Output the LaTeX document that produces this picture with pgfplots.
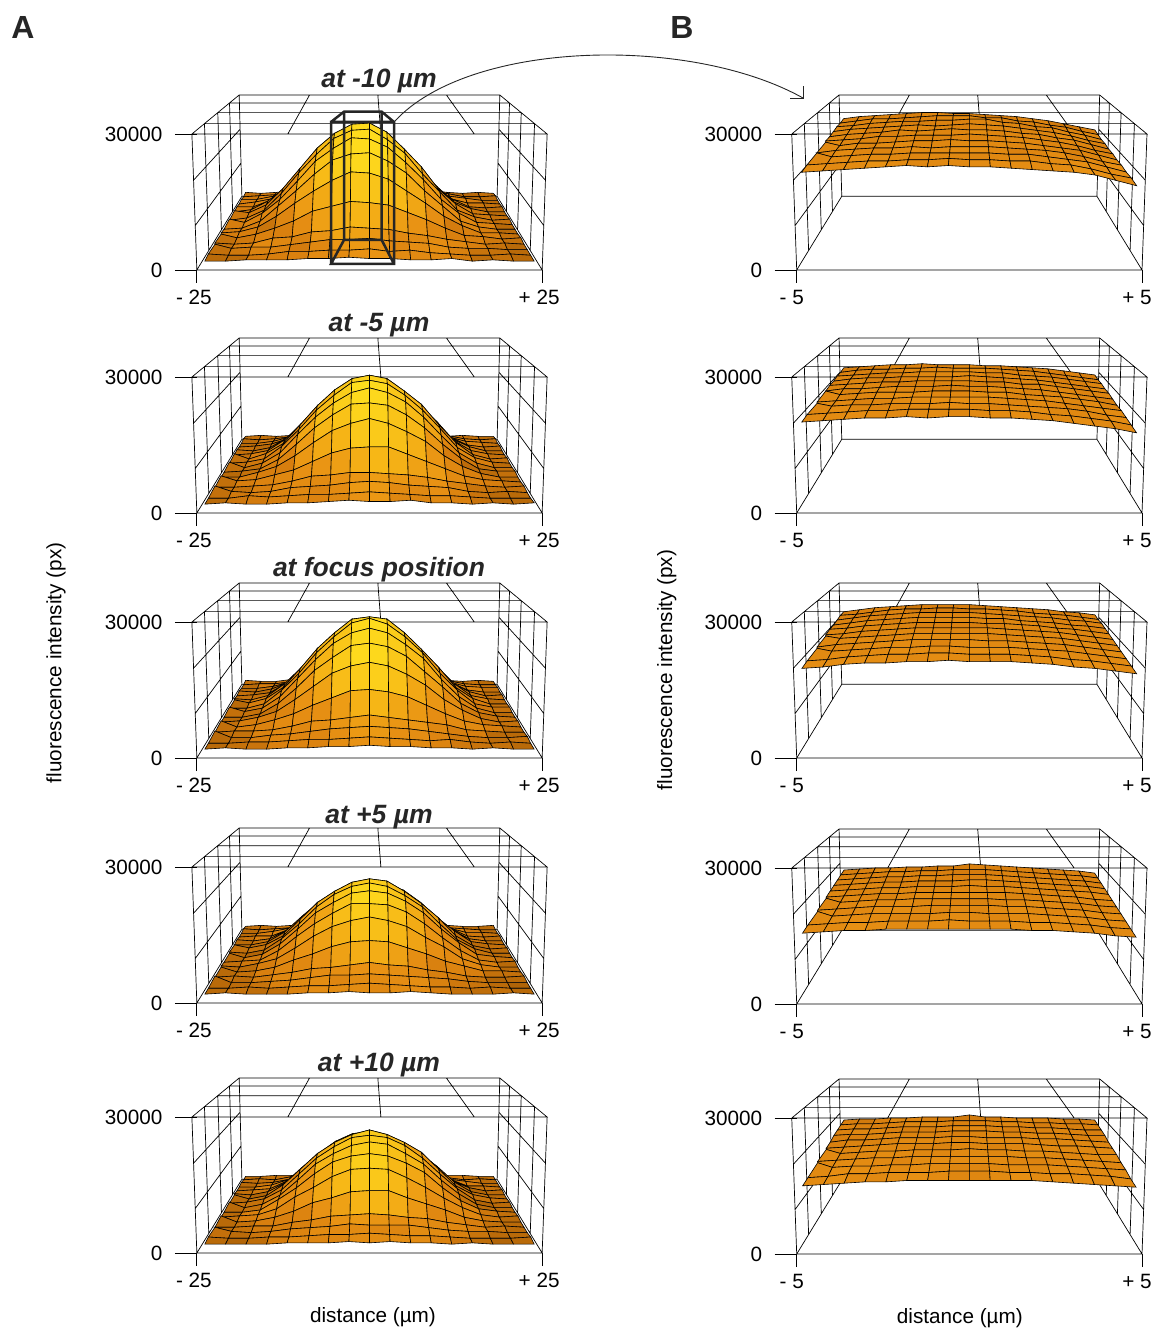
\documentclass[border=0pt]{standalone}
\usepackage{pgfplots}
\usepackage{pgfplotstable}
\usepackage{fontspec}
\setmainfont{Liberation Sans}
\pgfplotsset{compat=1.18}
\pgfplotstableread[row sep=\\]{u d h\\
-1 0 1\\1 0 1\\1 1 1\\-1 1 1\\-1 0 1\\nan nan nan\\
-1 .21 1\\1 .21 1\\nan nan nan\\-1 .47 1\\1 .47 1\\nan nan nan\\-1 .74 1\\1 .74 1\\nan nan nan\\
-.46 0 1\\-.46 1 1\\nan nan nan\\.064 0 1\\.064 1 1\\nan nan nan\\.59 0 1\\.59 1 1\\nan nan nan\\
-1 0 0\\1 0 0\\1 1 0\\-1 1 0\\-1 0 0\\nan nan nan\\
-1 0 0\\-1 0 1\\nan nan nan\\1 0 0\\1 0 1\\nan nan nan\\-1 1 0\\-1 1 1\\nan nan nan\\1 1 0\\1 1 1\\nan nan nan\\
-1 .21 0\\-1 .21 1\\nan nan nan\\-1 .47 0\\-1 .47 1\\nan nan nan\\-1 .74 0\\-1 .74 1\\nan nan nan\\
1 .21 0\\1 .21 1\\nan nan nan\\1 .47 0\\1 .47 1\\nan nan nan\\1 .74 0\\1 .74 1\\nan nan nan\\
-1 0 .3333\\-1 1 .3333\\nan nan nan\\-1 0 .6667\\-1 1 .6667\\nan nan nan\\
1 0 .3333\\1 1 .3333\\nan nan nan\\1 0 .6667\\1 1 .6667\\
}\boxT
\pgfplotstableread[row sep=\\]{z\\
4\\3\\4\\5\\7\\10\\10\\11\\12\\10\\9\\7\\6\\4\\3\\4\\3\\
3\\4\\5\\8\\13\\16\\21\\22\\23\\20\\17\\12\\8\\6\\3\\3\\4\\
4\\4\\7\\12\\20\\26\\33\\35\\36\\32\\26\\20\\12\\7\\5\\3\\3\\
3\\5\\8\\17\\28\\38\\46\\52\\53\\47\\39\\27\\18\\8\\4\\4\\3\\
4\\4\\10\\23\\36\\52\\61\\68\\68\\62\\50\\37\\22\\11\\4\\3\\4\\
3\\5\\13\\25\\43\\58\\72\\78\\79\\71\\59\\42\\26\\12\\6\\3\\3\\
4\\6\\13\\28\\46\\64\\77\\85\\86\\78\\63\\47\\27\\14\\5\\4\\3\\
3\\5\\12\\27\\45\\61\\75\\82\\83\\74\\62\\44\\28\\12\\6\\3\\4\\
4\\5\\13\\25\\41\\58\\69\\78\\77\\70\\57\\42\\25\\13\\5\\4\\3\\
3\\4\\10\\23\\36\\50\\62\\67\\68\\61\\51\\36\\23\\10\\5\\3\\3\\
4\\5\\9\\18\\29\\39\\48\\55\\54\\49\\39\\29\\18\\10\\4\\4\\3\\
3\\4\\7\\12\\18\\26\\30\\34\\33\\31\\25\\19\\12\\6\\5\\3\\4\\
4\\3\\4\\8\\9\\13\\14\\17\\16\\15\\12\\10\\7\\5\\3\\4\\3\\
3\\4\\5\\5\\7\\9\\11\\11\\12\\10\\9\\8\\5\\4\\4\\3\\3\\
4\\3\\3\\4\\6\\6\\7\\7\\8\\6\\7\\5\\4\\3\\3\\4\\3\\
3\\3\\4\\4\\4\\5\\5\\6\\5\\5\\4\\4\\5\\3\\4\\3\\3\\
}\tAa
\pgfplotstableread[row sep=\\]{z\\
3\\4\\3\\4\\6\\8\\10\\12\\11\\10\\9\\7\\4\\3\\4\\3\\3\\
4\\3\\4\\6\\11\\14\\17\\20\\22\\20\\17\\13\\9\\7\\4\\3\\4\\
3\\3\\5\\9\\15\\23\\28\\33\\34\\32\\29\\21\\14\\9\\5\\4\\3\\
3\\4\\6\\11\\21\\31\\42\\48\\50\\49\\40\\31\\22\\12\\5\\3\\4\\
4\\3\\6\\15\\28\\41\\53\\61\\63\\61\\53\\42\\27\\14\\7\\3\\3\\
3\\4\\7\\17\\32\\49\\60\\70\\74\\70\\61\\48\\33\\16\\7\\4\\3\\
4\\3\\8\\17\\34\\51\\65\\75\\78\\75\\64\\52\\34\\18\\7\\3\\4\\
3\\4\\7\\18\\33\\50\\63\\74\\76\\73\\63\\50\\34\\17\\8\\4\\3\\
4\\3\\7\\16\\32\\47\\59\\68\\72\\68\\60\\47\\31\\16\\7\\3\\3\\
3\\4\\6\\14\\27\\41\\52\\61\\62\\60\\52\\41\\27\\15\\6\\4\\4\\
3\\3\\7\\12\\21\\32\\42\\48\\52\\48\\41\\33\\21\\12\\6\\3\\3\\
4\\4\\5\\9\\13\\20\\27\\31\\32\\32\\26\\20\\14\\8\\5\\4\\3\\
3\\3\\4\\5\\8\\12\\13\\15\\15\\14\\13\\11\\8\\6\\4\\3\\4\\
4\\4\\3\\4\\7\\8\\9\\11\\12\\11\\9\\8\\7\\4\\3\\4\\3\\
3\\3\\5\\4\\5\\6\\6\\7\\8\\7\\6\\5\\5\\4\\3\\3\\3\\
3\\4\\3\\3\\4\\4\\5\\6\\5\\5\\6\\4\\4\\3\\4\\3\\4\\
}\tAb
\pgfplotstableread[row sep=\\]{z\\
4\\3\\3\\5\\6\\8\\10\\11\\12\\11\\9\\8\\7\\4\\3\\4\\3\\
3\\4\\4\\6\\10\\15\\17\\20\\22\\20\\17\\14\\10\\7\\4\\3\\3\\
3\\3\\5\\9\\16\\22\\29\\34\\35\\33\\30\\22\\15\\9\\5\\4\\4\\
4\\3\\6\\12\\22\\33\\42\\50\\53\\50\\42\\32\\23\\12\\5\\3\\3\\
3\\4\\6\\15\\28\\43\\56\\64\\66\\65\\55\\44\\28\\15\\7\\3\\4\\
4\\3\\7\\18\\33\\50\\63\\74\\77\\73\\64\\50\\33\\18\\7\\4\\3\\
3\\4\\8\\18\\35\\53\\67\\79\\81\\79\\67\\52\\36\\18\\8\\3\\3\\
3\\3\\7\\19\\34\\52\\66\\78\\82\\77\\66\\52\\34\\19\\7\\4\\4\\
4\\4\\7\\17\\33\\49\\63\\72\\76\\72\\62\\50\\32\\17\\7\\3\\3\\
3\\3\\6\\15\\28\\43\\54\\64\\66\\63\\55\\42\\29\\15\\7\\4\\3\\
3\\4\\7\\12\\22\\33\\44\\50\\53\\50\\43\\34\\22\\13\\6\\3\\4\\
4\\3\\5\\9\\14\\21\\27\\33\\34\\32\\28\\21\\14\\8\\5\\4\\3\\
3\\4\\4\\5\\8\\12\\13\\15\\17\\15\\13\\11\\9\\5\\4\\3\\3\\
4\\3\\3\\5\\6\\8\\10\\11\\12\\11\\10\\8\\6\\4\\3\\3\\4\\
3\\3\\4\\4\\5\\6\\6\\7\\8\\7\\6\\5\\6\\4\\3\\4\\3\\
3\\4\\3\\3\\4\\4\\5\\5\\6\\5\\5\\4\\4\\3\\4\\3\\3\\
}\tAc
\pgfplotstableread[row sep=\\]{z\\
3\\4\\3\\4\\5\\7\\9\\9\\10\\9\\8\\7\\6\\4\\3\\3\\4\\
4\\3\\4\\5\\9\\12\\15\\17\\19\\17\\15\\12\\8\\5\\4\\3\\3\\
3\\3\\5\\8\\13\\19\\26\\28\\30\\29\\25\\19\\13\\8\\4\\4\\3\\
3\\4\\4\\10\\19\\28\\36\\42\\44\\42\\36\\27\\19\\11\\4\\3\\4\\
4\\3\\5\\13\\24\\37\\47\\53\\55\\53\\46\\37\\25\\13\\5\\3\\3\\
3\\3\\6\\15\\29\\42\\52\\60\\62\\59\\53\\42\\28\\16\\6\\4\\3\\
3\\4\\7\\15\\30\\45\\55\\63\\66\\64\\55\\44\\31\\15\\6\\3\\4\\
4\\3\\6\\16\\29\\44\\55\\62\\65\\62\\54\\44\\29\\15\\7\\3\\3\\
3\\3\\6\\15\\28\\42\\51\\59\\61\\59\\52\\42\\28\\16\\6\\4\\3\\
3\\4\\5\\13\\25\\36\\45\\53\\53\\52\\46\\36\\24\\13\\5\\3\\4\\
4\\3\\6\\10\\19\\29\\37\\42\\45\\42\\37\\28\\20\\10\\5\\3\\3\\
3\\3\\4\\7\\13\\18\\24\\28\\29\\28\\23\\18\\12\\8\\4\\4\\3\\
3\\4\\3\\5\\7\\10\\11\\13\\15\\13\\12\\9\\7\\4\\3\\3\\4\\
4\\3\\3\\4\\5\\7\\9\\9\\10\\9\\8\\7\\6\\4\\3\\3\\3\\
3\\3\\4\\3\\4\\5\\5\\6\\7\\6\\5\\4\\4\\3\\4\\3\\3\\
3\\4\\3\\3\\3\\4\\4\\5\\4\\4\\5\\4\\3\\3\\3\\4\\3\\
}\tAd
\pgfplotstableread[row sep=\\]{z\\
3\\3\\4\\4\\5\\6\\8\\10\\10\\9\\8\\6\\5\\4\\4\\3\\3\\
3\\4\\3\\6\\8\\11\\15\\18\\18\\17\\14\\11\\8\\5\\3\\4\\3\\
4\\3\\4\\7\\13\\18\\25\\29\\31\\28\\24\\19\\12\\7\\5\\3\\3\\
3\\3\\5\\10\\18\\27\\37\\42\\43\\43\\35\\27\\18\\10\\4\\4\\3\\
3\\4\\5\\12\\24\\36\\46\\52\\54\\52\\46\\36\\24\\12\\6\\3\\4\\
4\\3\\6\\14\\28\\41\\52\\59\\61\\58\\51\\41\\29\\15\\6\\3\\3\\
3\\3\\6\\16\\30\\44\\54\\61\\65\\61\\54\\45\\30\\15\\7\\4\\3\\
3\\4\\7\\15\\29\\43\\53\\61\\63\\61\\54\\43\\29\\16\\6\\3\\4\\
4\\3\\6\\14\\27\\41\\50\\57\\60\\58\\50\\41\\27\\15\\6\\3\\3\\
3\\3\\5\\14\\24\\36\\46\\51\\53\\51\\45\\37\\24\\13\\6\\4\\3\\
3\\4\\5\\10\\20\\28\\37\\43\\44\\43\\36\\28\\19\\11\\5\\3\\4\\
4\\3\\4\\7\\12\\19\\23\\28\\29\\29\\23\\18\\13\\7\\4\\3\\3\\
3\\3\\4\\4\\7\\9\\12\\13\\14\\13\\11\\10\\7\\5\\3\\4\\3\\
3\\4\\3\\4\\6\\7\\8\\10\\9\\9\\9\\7\\5\\4\\4\\3\\3\\
4\\3\\3\\4\\4\\5\\6\\6\\7\\6\\5\\5\\4\\3\\3\\3\\4\\
3\\3\\3\\3\\4\\4\\4\\5\\4\\5\\4\\4\\3\\4\\3\\3\\3\\
}\tAe
\pgfplotstableread[row sep=\\]{z\\
77\\79\\80\\81\\82\\83\\83\\82\\82\\81\\80\\79\\77\\75\\72\\69\\66\\
76\\78\\80\\80\\81\\82\\83\\83\\83\\81\\81\\78\\77\\74\\72\\68\\65\\
76\\77\\79\\80\\81\\81\\82\\82\\83\\83\\80\\79\\76\\75\\71\\68\\64\\
75\\77\\78\\79\\80\\81\\80\\81\\82\\81\\80\\78\\76\\74\\71\\67\\64\\
74\\76\\77\\78\\80\\79\\80\\81\\80\\80\\79\\77\\76\\73\\71\\67\\63\\
74\\75\\76\\78\\78\\79\\79\\79\\80\\79\\78\\77\\75\\73\\70\\66\\63\\
73\\74\\76\\76\\77\\78\\78\\79\\78\\78\\77\\76\\74\\72\\70\\66\\62\\
72\\74\\75\\76\\76\\77\\76\\77\\77\\77\\76\\75\\74\\72\\69\\65\\62\\
72\\73\\74\\75\\75\\76\\76\\76\\76\\76\\75\\75\\73\\71\\69\\65\\61\\
71\\72\\73\\74\\74\\75\\75\\76\\75\\75\\74\\74\\72\\71\\68\\64\\61\\
70\\71\\72\\73\\74\\75\\74\\75\\74\\74\\73\\72\\71\\70\\68\\64\\60\\
}\tBa
\pgfplotstableread[row sep=\\]{z\\
71\\72\\73\\74\\74\\75\\74\\74\\74\\73\\73\\72\\71\\70\\68\\66\\64\\
70\\72\\73\\73\\74\\74\\75\\74\\74\\74\\73\\72\\71\\69\\67\\65\\63\\
70\\71\\72\\73\\73\\74\\74\\74\\74\\73\\73\\71\\70\\69\\67\\65\\63\\
69\\71\\72\\72\\73\\73\\73\\73\\74\\73\\72\\71\\70\\68\\66\\64\\62\\
69\\70\\71\\72\\72\\73\\73\\73\\73\\72\\72\\70\\70\\68\\66\\64\\62\\
68\\70\\70\\71\\72\\72\\72\\73\\72\\72\\71\\70\\69\\67\\65\\63\\61\\
68\\69\\70\\71\\71\\71\\72\\72\\72\\71\\71\\69\\68\\67\\65\\63\\60\\
67\\68\\69\\70\\70\\71\\71\\71\\71\\71\\70\\69\\68\\66\\64\\62\\60\\
66\\68\\69\\69\\70\\70\\70\\71\\70\\70\\69\\68\\67\\66\\64\\61\\59\\
66\\67\\68\\69\\69\\70\\70\\70\\70\\69\\69\\68\\66\\65\\63\\61\\58\\
65\\66\\67\\68\\68\\69\\68\\69\\69\\68\\68\\67\\66\\64\\62\\60\\57\\
}\tBb
\pgfplotstableread[row sep=\\]{z\\
72\\74\\76\\77\\78\\79\\79\\79\\79\\78\\77\\76\\75\\74\\72\\71\\69\\
72\\73\\75\\77\\78\\78\\79\\79\\78\\78\\77\\76\\74\\73\\72\\70\\68\\
71\\73\\75\\76\\77\\78\\78\\78\\78\\77\\76\\75\\74\\73\\71\\70\\68\\
70\\72\\74\\75\\76\\77\\77\\77\\77\\76\\76\\74\\73\\72\\70\\69\\67\\
70\\71\\73\\74\\75\\76\\76\\76\\76\\75\\75\\74\\73\\71\\70\\68\\66\\
69\\70\\72\\73\\74\\75\\75\\75\\75\\75\\74\\73\\72\\71\\69\\67\\65\\
68\\70\\71\\72\\73\\74\\74\\74\\74\\74\\73\\72\\71\\70\\68\\66\\64\\
67\\69\\70\\71\\72\\73\\73\\73\\73\\72\\72\\71\\70\\69\\67\\65\\63\\
66\\68\\69\\70\\71\\71\\72\\72\\71\\71\\71\\70\\69\\68\\66\\64\\62\\
65\\66\\68\\69\\70\\70\\71\\71\\70\\70\\70\\69\\68\\66\\65\\63\\61\\
64\\65\\67\\68\\68\\69\\69\\70\\69\\69\\69\\68\\67\\65\\64\\62\\60\\
}\tBc
\pgfplotstableread[row sep=\\]{z\\
60\\61\\62\\62\\63\\63\\64\\64\\66\\65\\64\\63\\62\\61\\60\\59\\57\\
59\\60\\61\\62\\62\\63\\63\\64\\64\\64\\63\\62\\61\\60\\59\\58\\56\\
58\\59\\60\\61\\61\\62\\62\\63\\63\\63\\62\\61\\60\\59\\58\\57\\55\\
57\\58\\59\\60\\60\\61\\61\\61\\62\\62\\61\\60\\59\\58\\57\\56\\54\\
56\\57\\58\\59\\59\\60\\60\\60\\61\\60\\60\\59\\58\\57\\56\\55\\53\\
55\\56\\57\\58\\58\\59\\59\\59\\59\\59\\59\\58\\57\\56\\55\\53\\52\\
54\\55\\56\\57\\57\\58\\58\\58\\58\\58\\57\\57\\56\\55\\54\\52\\51\\
53\\54\\55\\56\\56\\56\\57\\57\\57\\57\\56\\56\\55\\54\\53\\51\\50\\
52\\53\\54\\55\\55\\55\\55\\56\\56\\55\\55\\55\\54\\53\\52\\50\\49\\
51\\52\\53\\53\\54\\54\\54\\55\\54\\54\\54\\53\\53\\52\\51\\49\\48\\
50\\51\\52\\52\\53\\53\\53\\53\\53\\53\\53\\52\\52\\51\\50\\48\\47\\
}\tBd
\pgfplotstableread[row sep=\\]{z\\
60\\61\\61\\62\\62\\63\\63\\63\\65\\63\\63\\62\\62\\62\\61\\61\\60\\
59\\60\\60\\61\\62\\62\\62\\63\\63\\63\\62\\62\\61\\61\\60\\60\\59\\
58\\59\\59\\60\\61\\61\\61\\62\\62\\62\\61\\61\\60\\60\\59\\58\\58\\
57\\58\\58\\59\\60\\60\\60\\61\\61\\61\\60\\60\\59\\59\\58\\57\\57\\
55\\57\\57\\58\\59\\59\\59\\60\\60\\59\\59\\59\\58\\58\\57\\56\\55\\
54\\55\\56\\57\\58\\58\\58\\59\\59\\58\\58\\58\\57\\56\\56\\55\\54\\
53\\54\\55\\56\\56\\57\\57\\57\\58\\57\\57\\56\\56\\55\\54\\53\\53\\
52\\53\\54\\55\\55\\56\\56\\56\\56\\56\\56\\55\\55\\54\\53\\52\\51\\
51\\52\\53\\53\\54\\54\\55\\55\\55\\55\\54\\54\\54\\53\\52\\51\\50\\
49\\50\\52\\52\\53\\53\\53\\54\\54\\54\\53\\53\\52\\52\\51\\50\\48\\
48\\49\\50\\51\\51\\52\\52\\52\\52\\52\\52\\52\\51\\50\\49\\48\\47\\
}\tBe
% grid position of a table row, and the view
\def\uu{(.97*(mod(\coordindex,17)-8)/8)}
\def\dstep{.0633}
\def\dd{(1-\dstep*floor(\coordindex/17))}
\def\ww{(1+.353*\dd-.028*\thisrow{z}/100)}
\pgfplotsset{
 colormap={oy}{rgb255(0cm)=(176,100,8) rgb255(6cm)=(214,125,14) rgb255(15cm)=(232,145,20) rgb255(30cm)=(246,180,22) rgb255(60cm)=(255,224,30)},
 panel/.style={scale only axis,width=345.3pt,height=136pt,xmin=-172.65,xmax=172.65,ymin=0,ymax=136,clip=false,
  axis line style={draw=none},tick align=outside,xtick pos=bottom,ytick pos=left,
  xtick={-172.65,172.65},ytick={0,136},yticklabels={0,30000},
  xtick style={black,line width=.8pt,/pgfplots/major tick length=13pt},
  ytick style={black,line width=.8pt,/pgfplots/major tick length=22pt},
  xticklabel style={inner sep=0pt,anchor=north,xshift=-3pt,yshift=-16pt},
  yticklabel style={inner sep=0pt,anchor=east,xshift=-30pt},
  colormap name=oy,point meta min=0,point meta max=60},
 panA/.style={panel,xticklabels={- 25,+ 25}},
 panB/.style={panel,xticklabels={- 5,+ 5},xticklabel style={xshift=-2pt}},
}
\newcommand\boxlines{\addplot[black,line width=.7pt,no markers,unbounded coords=jump,forget plot] table[
  x expr={172.65*\thisrow{u}/(1+.353*\thisrow{d}-.028*\thisrow{h})},
  y expr={(99.7*\thisrow{d}+132.2*\thisrow{h})/(1+.353*\thisrow{d}-.028*\thisrow{h})}]{\boxT};}
\newcommand\surfA[1]{\def\dstep{.0633}\addplot[surf,shader=faceted,faceted color=black,line width=.6pt,point meta=explicit,mesh/rows=16,mesh/cols=17,forget plot] table[x index=0,y index=0,
  x expr={172.65*\uu/\ww},
  y expr={(99.7*\dd+132.2*\thisrow{z}/100)/\ww},
  meta expr={\thisrow{z}*max(0,1-1.2*abs(\uu))*(1.43-1.3*\dd)+6*mod(\thisrow{z},3)}]{#1};}
\newcommand\surfB[1]{\def\dstep{.095}\addplot[surf,shader=faceted,faceted color=black,line width=.6pt,point meta=explicit,mesh/rows=11,mesh/cols=17,forget plot] table[x index=0,y index=0,
  x expr={172.65*\uu/\ww},
  y expr={(99.7*\dd+132.2*\thisrow{z}/100)/\ww},
  meta expr={3+6*(1-\dd)+4*mod(\thisrow{z},3)}]{#1};}
\newcommand\ttl[2][188]{\node[font=\fontsize{26.5}{30}\selectfont\bfseries\itshape,anchor=center,text=black!85] at (axis cs:9.5,#1) {#2};}
\begin{document}
\begin{tikzpicture}[font=\fontsize{20.7}{24}\selectfont]
\useasboundingbox (0,0) rectangle (1152pt,-1329pt);
\begin{axis}[panA,at={(196.85pt,-270pt)},anchor=south west]
\boxlines \surfA{\tAa}
\addplot[color=black!85,line width=2.5pt,no markers,unbounded coords=jump,forget plot] coordinates {
 (-38.5,6) (-38.5,148) (24.5,148) (24.5,6) (-38.5,6) (-25.5,30) (12.2,30) (24.5,6) (nan,nan)
 (-38.5,148) (-25.5,158.3) (12.2,158.3) (24.5,148) (nan,nan)
 (-25.5,30) (-25.5,158.3) (nan,nan) (12.2,30) (12.2,158.3)};
\ttl[189]{at -10 µm}
\end{axis}
\begin{axis}[panA,at={(196.85pt,-513pt)},anchor=south west]
\boxlines \surfA{\tAb} \ttl{at -5 µm}
\end{axis}
\begin{axis}[panA,at={(196.85pt,-758pt)},anchor=south west,
 ylabel={fluorescence intensity (px)},ylabel style={at={(axis description cs:-.408,.70)},anchor=center,rotate=0}]
\boxlines \surfA{\tAc} \ttl{at focus position}
\end{axis}
\begin{axis}[panA,at={(196.85pt,-1003pt)},anchor=south west]
\boxlines \surfA{\tAd} \ttl[186]{at +5 µm}
\end{axis}
\begin{axis}[panA,at={(196.85pt,-1253pt)},anchor=south west,
 xlabel={distance (µm)},xlabel style={at={(axis description cs:.51,-.47)},anchor=center}]
\boxlines \surfA{\tAe} \ttl{at +10 µm}
\end{axis}
\begin{axis}[panB,at={(796.7pt,-270pt)},anchor=south west]
\boxlines \surfB{\tBa}
\end{axis}
\begin{axis}[panB,at={(796.7pt,-513pt)},anchor=south west]
\boxlines \surfB{\tBb}
\end{axis}
\begin{axis}[panB,at={(796.7pt,-758pt)},anchor=south west,
 ylabel={fluorescence intensity (px)},ylabel style={at={(axis description cs:-.376,.647)},anchor=center,rotate=0}]
\boxlines \surfB{\tBc}
\end{axis}
\begin{axis}[panB,at={(796.7pt,-1004pt)},anchor=south west]
\boxlines \surfB{\tBd}
\end{axis}
\begin{axis}[panB,at={(796.7pt,-1254pt)},anchor=south west,
 xlabel={distance (µm)},xlabel style={at={(axis description cs:.4725,-.47)},anchor=center}]
\boxlines \surfB{\tBe}
\end{axis}
\node[font=\fontsize{32}{36}\selectfont\bfseries,text=black!85] at (23pt,-27pt) {A};
\node[font=\fontsize{32}{36}\selectfont\bfseries,text=black!85] at (682pt,-27pt) {B};
\draw[black!85,line width=.9pt] (395pt,-121pt) .. controls (470pt,-40pt) and (690pt,-35pt) .. (803pt,-98pt);
\draw[black!85,line width=.9pt] (790pt,-98pt) -- (803pt,-98pt) -- (803pt,-86pt);
\end{tikzpicture}
\end{document}
